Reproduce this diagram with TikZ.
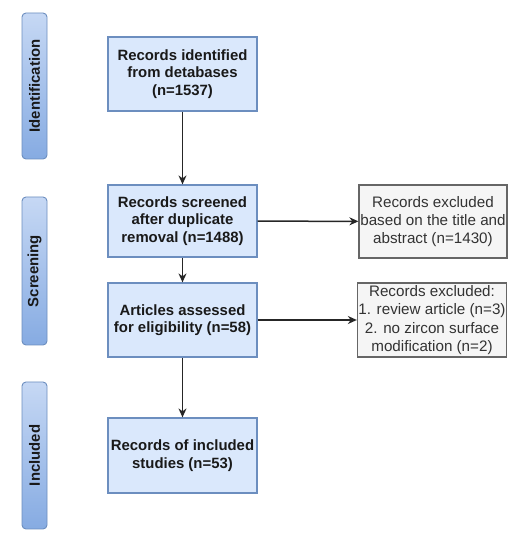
\documentclass[tikz,border=0pt]{standalone}
\usepackage{fontspec}
\setmainfont{Liberation Sans}
\usetikzlibrary{arrows.meta,positioning}
\definecolor{boxfill}{HTML}{DAE8FC}
\definecolor{boxline}{HTML}{6C8EBF}
\definecolor{exfill}{HTML}{F5F5F5}
\definecolor{exline}{HTML}{666666}
\definecolor{extext}{HTML}{333333}
\definecolor{barlight}{HTML}{C6D8F4}
\definecolor{bardark}{HTML}{86ABE2}

\begin{document}
\begin{tikzpicture}[x=1pt, y=1pt,
  stagebox/.style={draw=boxline, fill=boxfill, line width=1.2pt, minimum width=149pt,
    minimum height=74pt, align=center, inner sep=2pt,
    font=\fontsize{14.9}{17.6}\selectfont\bfseries, text=black!90},
  exbox/.style={draw=exline, fill=exfill, line width=1.2pt, minimum width=147pt,
    minimum height=74pt, align=center, inner sep=1pt, text=extext,
    font=\fontsize{15.2}{18.2}\selectfont},
  phase/.style={draw=boxline, top color=barlight, bottom color=bardark, rounded corners=4pt,
    line width=0.9pt, minimum height=25pt, rotate=90, inner sep=0pt,
    font=\fontsize{14.9}{17.6}\selectfont\bfseries, text=black!90},
  flow/.style={-{Stealth[length=9pt, width=8pt]}, line width=1.5pt, black!85}
]
  \useasboundingbox (0,0) rectangle (516,550);
  % phase bars on the left
  \foreach \n/\y/\h/\t in {ident/464/146/Identification, screen/279/148/Screening, incl/94.5/147/Included} {
    \node[phase, minimum width=\h pt] (ph-\n) at (34.5,\y) {\t};
  }
  % main flow
  \node[stagebox] (identified) at (182.5,476) {Records identified\\from detabases\\(n=1537)};
  \node[stagebox, minimum height=72pt] (screened) at (182.5,329) {Records screened\\after duplicate\\removal (n=1488)};
  \node[stagebox] (assessed) at (182.5,230) {Articles assessed\\for eligibility (n=58)};
  \node[stagebox, minimum height=75pt] (included) at (182.5,94.5) {Records of included\\studies (n=53)};
  % exclusions
  \node[exbox, minimum width=148pt, minimum height=73pt] (excl-title) at (433,328.5) {Records excluded\\based on the title and\\abstract (n=1430)};
  \node[exbox] (excl-full) at (432,230) {Records excluded:\\1. review article (n=3)\\2. no zircon surface\\modification (n=2)};
  \draw[flow] (identified) -- (screened);
  \draw[flow] (screened) -- (assessed);
  \draw[flow] (assessed) -- (included);
  \draw[flow] (screened) -- (excl-title);
  \draw[flow] (assessed) -- (excl-full);
\end{tikzpicture}
\end{document}
